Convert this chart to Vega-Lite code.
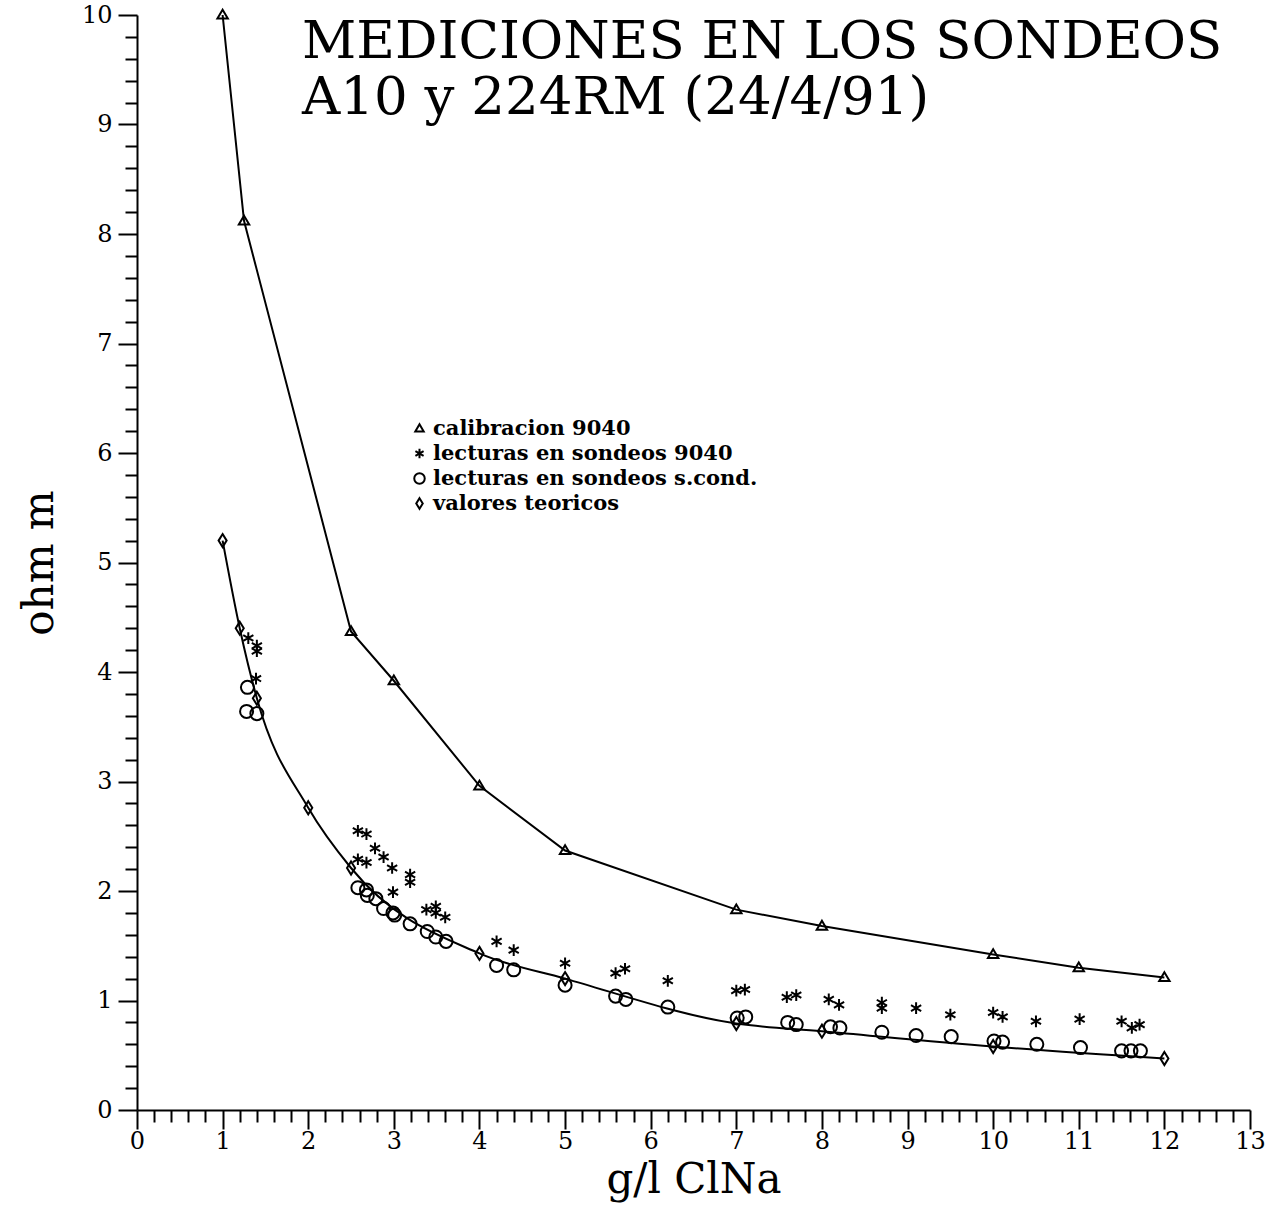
{
  "$schema": "https://vega.github.io/schema/vega-lite/v6.json",
  "width": 1113,
  "height": 1095,
  "autosize": {"type": "none"},
  "padding": {"left": 137, "top": 15, "right": 32, "bottom": 104},
  "background": "white",
  "config": {"view": {"stroke": null}, "font": "DejaVu Serif"},
  "title": {
    "text": ["MEDICIONES EN LOS SONDEOS", "A10 y 224RM (24/4/91)"],
    "anchor": "start",
    "frame": "group",
    "orient": "top",
    "offset": -122,
    "dx": 165,
    "font": "DejaVu Serif",
    "fontSize": 53,
    "fontWeight": "normal",
    "lineHeight": 56,
    "color": "black"
  },
  "data": {"values": [
    {"serie": "calibracion 9040", "x": 1.0, "y": 10.0},
    {"serie": "calibracion 9040", "x": 1.25, "y": 8.12},
    {"serie": "calibracion 9040", "x": 2.5, "y": 4.37},
    {"serie": "calibracion 9040", "x": 3.0, "y": 3.92},
    {"serie": "calibracion 9040", "x": 4.0, "y": 2.96},
    {"serie": "calibracion 9040", "x": 5.0, "y": 2.37},
    {"serie": "calibracion 9040", "x": 7.0, "y": 1.83},
    {"serie": "calibracion 9040", "x": 8.0, "y": 1.68},
    {"serie": "calibracion 9040", "x": 10.0, "y": 1.42},
    {"serie": "calibracion 9040", "x": 11.0, "y": 1.30},
    {"serie": "calibracion 9040", "x": 12.0, "y": 1.21},
    {"serie": "valores teoricos", "x": 1.0, "y": 5.2},
    {"serie": "valores teoricos", "x": 1.2, "y": 4.40},
    {"serie": "valores teoricos", "x": 1.4, "y": 3.76},
    {"serie": "valores teoricos", "x": 2.0, "y": 2.76},
    {"serie": "valores teoricos", "x": 2.5, "y": 2.21},
    {"serie": "valores teoricos", "x": 4.0, "y": 1.43},
    {"serie": "valores teoricos", "x": 5.0, "y": 1.20},
    {"serie": "valores teoricos", "x": 7.0, "y": 0.79},
    {"serie": "valores teoricos", "x": 8.0, "y": 0.72},
    {"serie": "valores teoricos", "x": 10.0, "y": 0.58},
    {"serie": "valores teoricos", "x": 12.0, "y": 0.47},
    {"serie": "lecturas en sondeos 9040", "x": 1.30, "y": 4.31},
    {"serie": "lecturas en sondeos 9040", "x": 1.40, "y": 4.24},
    {"serie": "lecturas en sondeos 9040", "x": 1.40, "y": 4.19},
    {"serie": "lecturas en sondeos 9040", "x": 1.39, "y": 3.94},
    {"serie": "lecturas en sondeos 9040", "x": 2.58, "y": 2.55},
    {"serie": "lecturas en sondeos 9040", "x": 2.68, "y": 2.52},
    {"serie": "lecturas en sondeos 9040", "x": 2.78, "y": 2.39},
    {"serie": "lecturas en sondeos 9040", "x": 2.88, "y": 2.31},
    {"serie": "lecturas en sondeos 9040", "x": 2.58, "y": 2.29},
    {"serie": "lecturas en sondeos 9040", "x": 2.68, "y": 2.26},
    {"serie": "lecturas en sondeos 9040", "x": 2.98, "y": 2.21},
    {"serie": "lecturas en sondeos 9040", "x": 3.19, "y": 2.15},
    {"serie": "lecturas en sondeos 9040", "x": 3.19, "y": 2.08},
    {"serie": "lecturas en sondeos 9040", "x": 2.99, "y": 1.99},
    {"serie": "lecturas en sondeos 9040", "x": 3.38, "y": 1.83},
    {"serie": "lecturas en sondeos 9040", "x": 3.49, "y": 1.86},
    {"serie": "lecturas en sondeos 9040", "x": 3.49, "y": 1.80},
    {"serie": "lecturas en sondeos 9040", "x": 3.60, "y": 1.76},
    {"serie": "lecturas en sondeos 9040", "x": 4.20, "y": 1.54},
    {"serie": "lecturas en sondeos 9040", "x": 4.40, "y": 1.46},
    {"serie": "lecturas en sondeos 9040", "x": 5.00, "y": 1.34},
    {"serie": "lecturas en sondeos 9040", "x": 5.59, "y": 1.25},
    {"serie": "lecturas en sondeos 9040", "x": 5.70, "y": 1.29},
    {"serie": "lecturas en sondeos 9040", "x": 6.20, "y": 1.18},
    {"serie": "lecturas en sondeos 9040", "x": 7.00, "y": 1.09},
    {"serie": "lecturas en sondeos 9040", "x": 7.10, "y": 1.10},
    {"serie": "lecturas en sondeos 9040", "x": 7.59, "y": 1.03},
    {"serie": "lecturas en sondeos 9040", "x": 7.70, "y": 1.05},
    {"serie": "lecturas en sondeos 9040", "x": 8.08, "y": 1.01},
    {"serie": "lecturas en sondeos 9040", "x": 8.20, "y": 0.96},
    {"serie": "lecturas en sondeos 9040", "x": 8.70, "y": 0.98},
    {"serie": "lecturas en sondeos 9040", "x": 8.70, "y": 0.93},
    {"serie": "lecturas en sondeos 9040", "x": 9.10, "y": 0.93},
    {"serie": "lecturas en sondeos 9040", "x": 9.50, "y": 0.87},
    {"serie": "lecturas en sondeos 9040", "x": 10.00, "y": 0.89},
    {"serie": "lecturas en sondeos 9040", "x": 10.11, "y": 0.85},
    {"serie": "lecturas en sondeos 9040", "x": 10.50, "y": 0.81},
    {"serie": "lecturas en sondeos 9040", "x": 11.01, "y": 0.83},
    {"serie": "lecturas en sondeos 9040", "x": 11.50, "y": 0.81},
    {"serie": "lecturas en sondeos 9040", "x": 11.62, "y": 0.75},
    {"serie": "lecturas en sondeos 9040", "x": 11.71, "y": 0.78},
    {"serie": "lecturas en sondeos s.cond.", "x": 1.29, "y": 3.86},
    {"serie": "lecturas en sondeos s.cond.", "x": 1.28, "y": 3.64},
    {"serie": "lecturas en sondeos s.cond.", "x": 1.40, "y": 3.62},
    {"serie": "lecturas en sondeos s.cond.", "x": 2.58, "y": 2.03},
    {"serie": "lecturas en sondeos s.cond.", "x": 2.68, "y": 2.01},
    {"serie": "lecturas en sondeos s.cond.", "x": 2.69, "y": 1.96},
    {"serie": "lecturas en sondeos s.cond.", "x": 2.79, "y": 1.93},
    {"serie": "lecturas en sondeos s.cond.", "x": 2.88, "y": 1.84},
    {"serie": "lecturas en sondeos s.cond.", "x": 2.99, "y": 1.80},
    {"serie": "lecturas en sondeos s.cond.", "x": 3.01, "y": 1.78},
    {"serie": "lecturas en sondeos s.cond.", "x": 3.19, "y": 1.70},
    {"serie": "lecturas en sondeos s.cond.", "x": 3.39, "y": 1.63},
    {"serie": "lecturas en sondeos s.cond.", "x": 3.49, "y": 1.58},
    {"serie": "lecturas en sondeos s.cond.", "x": 3.61, "y": 1.54},
    {"serie": "lecturas en sondeos s.cond.", "x": 4.20, "y": 1.32},
    {"serie": "lecturas en sondeos s.cond.", "x": 4.40, "y": 1.28},
    {"serie": "lecturas en sondeos s.cond.", "x": 5.00, "y": 1.14},
    {"serie": "lecturas en sondeos s.cond.", "x": 5.59, "y": 1.04},
    {"serie": "lecturas en sondeos s.cond.", "x": 5.71, "y": 1.01},
    {"serie": "lecturas en sondeos s.cond.", "x": 6.20, "y": 0.94},
    {"serie": "lecturas en sondeos s.cond.", "x": 7.01, "y": 0.84},
    {"serie": "lecturas en sondeos s.cond.", "x": 7.11, "y": 0.85},
    {"serie": "lecturas en sondeos s.cond.", "x": 7.60, "y": 0.80},
    {"serie": "lecturas en sondeos s.cond.", "x": 7.70, "y": 0.78},
    {"serie": "lecturas en sondeos s.cond.", "x": 8.10, "y": 0.76},
    {"serie": "lecturas en sondeos s.cond.", "x": 8.21, "y": 0.75},
    {"serie": "lecturas en sondeos s.cond.", "x": 8.70, "y": 0.71},
    {"serie": "lecturas en sondeos s.cond.", "x": 9.10, "y": 0.68},
    {"serie": "lecturas en sondeos s.cond.", "x": 9.51, "y": 0.67},
    {"serie": "lecturas en sondeos s.cond.", "x": 10.01, "y": 0.63},
    {"serie": "lecturas en sondeos s.cond.", "x": 10.11, "y": 0.62},
    {"serie": "lecturas en sondeos s.cond.", "x": 10.51, "y": 0.60},
    {"serie": "lecturas en sondeos s.cond.", "x": 11.02, "y": 0.57},
    {"serie": "lecturas en sondeos s.cond.", "x": 11.50, "y": 0.54},
    {"serie": "lecturas en sondeos s.cond.", "x": 11.61, "y": 0.54},
    {"serie": "lecturas en sondeos s.cond.", "x": 11.72, "y": 0.54}
  ]},
  "encoding": {
    "x": {
      "field": "x", "type": "quantitative",
      "scale": {"domain": [0, 13], "nice": false, "zero": false},
      "axis": {
        "title": "g/l ClNa",
        "values": [0,0.2,0.4,0.6,0.8,1,1.2,1.4,1.6,1.8,2,2.2,2.4,2.6,2.8,3,3.2,3.4,3.6,3.8,4,4.2,4.4,4.6,4.8,5,5.2,5.4,5.6,5.8,6,6.2,6.4,6.6,6.8,7,7.2,7.4,7.6,7.8,8,8.2,8.4,8.6,8.8,9,9.2,9.4,9.6,9.8,10,10.2,10.4,10.6,10.8,11,11.2,11.4,11.6,11.8,12,12.2,12.4,12.6,12.8,13],
        "labelExpr": "datum.value % 1 === 0 ? format(datum.value, 'd') : ''",
        "tickSize": {"condition": {"test": "datum.value % 1 === 0", "value": 19}, "value": 12},
        "grid": false,
        "domainColor": "black", "domainWidth": 2,
        "tickColor": "black", "tickWidth": 2,
        "labelFont": "DejaVu Serif", "labelFontSize": 24, "labelColor": "black",
        "labelPadding": 0, "labelOverlap": false, "labelFlush": false,
        "titleFont": "DejaVu Serif", "titleFontSize": 42, "titleFontWeight": "normal",
        "titleColor": "black", "titlePadding": 6
      }
    },
    "y": {
      "field": "y", "type": "quantitative",
      "scale": {"domain": [0, 10], "nice": false, "zero": false},
      "axis": {
        "title": "ohm m",
        "values": [0,0.2,0.4,0.6,0.8,1,1.2,1.4,1.6,1.8,2,2.2,2.4,2.6,2.8,3,3.2,3.4,3.6,3.8,4,4.2,4.4,4.6,4.8,5,5.2,5.4,5.6,5.8,6,6.2,6.4,6.6,6.8,7,7.2,7.4,7.6,7.8,8,8.2,8.4,8.6,8.8,9,9.2,9.4,9.6,9.8,10],
        "labelExpr": "datum.value % 1 === 0 ? format(datum.value, 'd') : ''",
        "tickSize": {"condition": {"test": "datum.value % 1 === 0", "value": 19}, "value": 12},
        "grid": false,
        "domainColor": "black", "domainWidth": 2,
        "tickColor": "black", "tickWidth": 2,
        "labelFont": "DejaVu Serif", "labelFontSize": 24, "labelColor": "black",
        "labelPadding": 6, "labelOverlap": false, "labelFlush": false,
        "titleFont": "DejaVu Serif", "titleFontSize": 42, "titleFontWeight": "normal",
        "titleColor": "black", "titlePadding": 20
      }
    }
  },
  "layer": [
    {
      "transform": [{"filter": "datum.serie === 'calibracion 9040'"}],
      "mark": {"type": "line", "color": "black", "strokeWidth": 2}
    },
    {
      "transform": [{"filter": "datum.serie === 'valores teoricos'"}],
      "mark": {"type": "line", "color": "black", "strokeWidth": 2, "interpolate": "monotone"}
    },
    {
      "mark": {"type": "point", "filled": false, "strokeWidth": 2, "color": "black", "opacity": 1, "size": 170},
      "encoding": {
        "shape": {
          "field": "serie", "type": "nominal",
          "scale": {
            "domain": ["calibracion 9040", "lecturas en sondeos 9040", "lecturas en sondeos s.cond.", "valores teoricos"],
            "range": [
              "M0,-0.8L0.8,0.55L-0.8,0.55Z",
              "M0,-0.9L0,0.9M-0.78,-0.45L0.78,0.45M-0.78,0.45L0.78,-0.45",
              "M1,0A1,1 0 1,1 -1,0A1,1 0 1,1 1,0Z",
              "M0,-1L0.62,0L0,1L-0.62,0Z"
            ]
          },
          "legend": {
            "orient": "none", "legendX": 272, "legendY": 403,
            "title": null,
            "labelFont": "DejaVu Serif", "labelFontWeight": "bold", "labelFontSize": 21,
            "labelColor": "black", "labelLimit": 800, "labelOffset": 3,
            "symbolSize": 110, "symbolStrokeWidth": 2, "symbolStrokeColor": "black",
            "symbolFillColor": "transparent",
            "rowPadding": 3
          }
        }
      }
    }
  ]
}
